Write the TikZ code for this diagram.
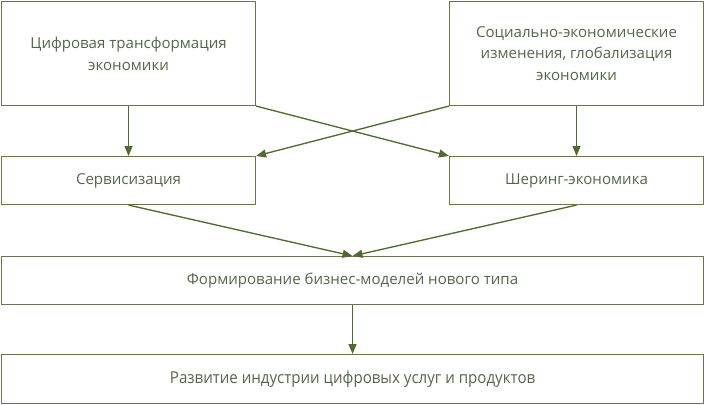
\documentclass[tikz,border=0pt]{standalone}
\usepackage{fontspec}
\usepackage{graphicx}
\setmainfont{Open Sans}
\usetikzlibrary{arrows.meta}
\definecolor{boxline}{HTML}{6E7250}
\definecolor{arrowc}{HTML}{4F6B2F}
\definecolor{txt}{HTML}{55654A}
\tikzset{
  box/.style={draw=boxline, line width=0.8pt, anchor=north west, inner sep=0pt,
    align=center, text=txt, font=\fontsize{11.3}{16.3}\selectfont},
  arr/.style={draw=arrowc, line width=1pt, -{Triangle[length=7.5pt,width=6pt]}}
}
\begin{document}
\begin{tikzpicture}[x=0.75pt,y=-0.75pt]
\useasboundingbox (0,0) rectangle (704,404);
\node[box, minimum width=190.5pt, minimum height=78pt] (a) at (1,1)
  {Цифровая трансформация\\экономики};
\node[box, minimum width=190.5pt, minimum height=78pt] (b) at (449,1)
  {Социально-экономические\\изменения, глобализация\\экономики};
\node[box, minimum width=190.5pt, minimum height=36pt] (s) at (1,156)
  {Сервисизация};
\node[box, minimum width=190.5pt, minimum height=36pt] (h) at (449,156)
  {Шеринг-экономика};
\node[box, minimum width=526.5pt, minimum height=36pt] (c) at (1,256)
  {Формирование бизнес-моделей нового типа};
\node[box, minimum width=526.5pt, minimum height=36.75pt,
  font=\fontsize{12.3}{16}\selectfont] (d) at (1,354)
  {\scalebox{0.92}[1]{Развитие индустрии цифровых услуг и продуктов}};
\draw[arr] (a.south) -- (s.north);
\draw[arr] (b.south) -- (h.north);
\draw[arr] (a.south east) -- (h.north west);
\draw[arr] (b.south west) -- (s.north east);
\draw[arr] (s.south) -- (c.north);
\draw[arr] (h.south) -- (c.north);
\draw[arr] (c.south) -- (d.north);
\end{tikzpicture}
\end{document}
